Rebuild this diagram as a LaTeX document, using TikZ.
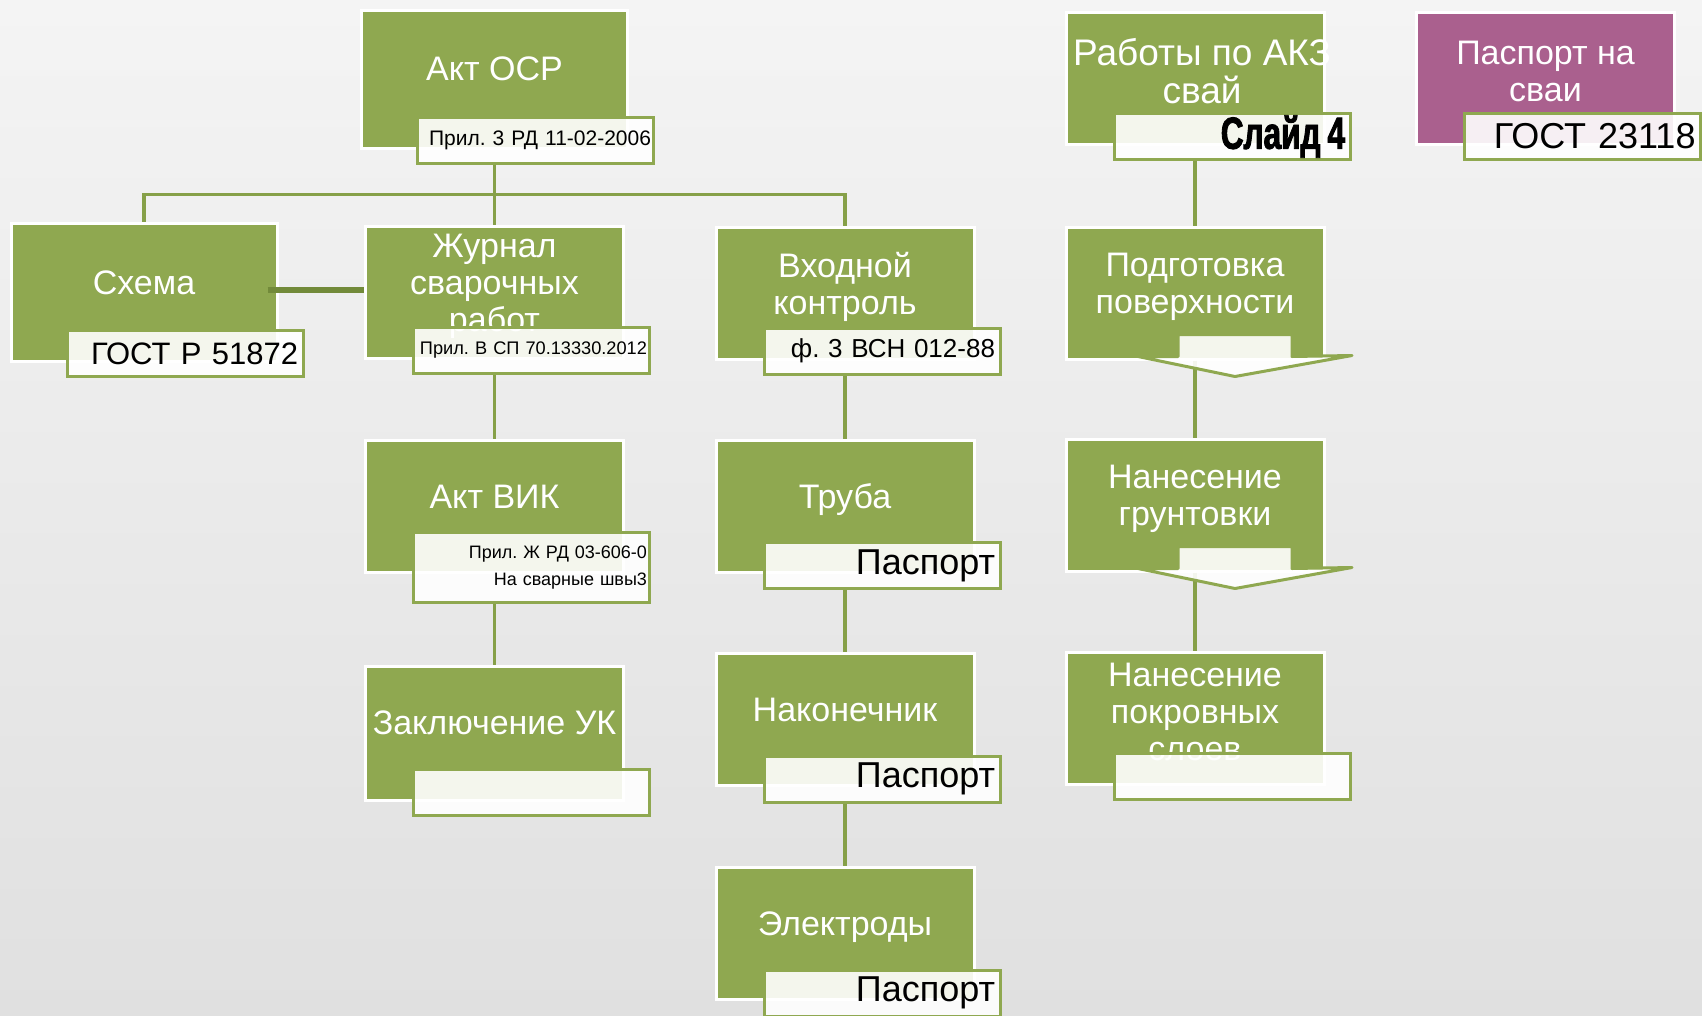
\documentclass[tikz,border=0pt]{standalone}
\usepackage{fontspec}
\setmainfont{Liberation Sans}
\newfontfamily\slidefont[FakeStretch=0.7,BoldFeatures={FakeBold=2}]{Liberation Sans}
\usepackage{tikz}
\usetikzlibrary{positioning}
\definecolor{boxgreen}{RGB}{143, 168, 80}
\definecolor{linkgreen}{RGB}{134, 160, 72}
\definecolor{crossgreen}{RGB}{114, 138, 58}
\definecolor{boxpink}{RGB}{170, 96, 142}
\definecolor{bgtop}{RGB}{244, 244, 244}
\definecolor{bgbottom}{RGB}{224, 224, 224}
\frenchspacing

\tikzset{
  greenbox/.style={rectangle, fill=boxgreen, draw=white, line width=3pt, minimum width=258pt, minimum height=132pt, inner sep=0pt},
  rootbox/.style={greenbox, minimum width=266pt, minimum height=138pt},
  boxtext/.style={text=white, font=\fontsize{34}{37}\selectfont, align=center, inner sep=0pt},
  tagbox/.style={rectangle, draw=boxgreen, line width=3pt, fill=white, fill opacity=0.9, text opacity=1, minimum width=236pt, minimum height=46pt, text width=226pt, align=right, inner xsep=5pt, inner ysep=0pt, anchor=east},
  smalltag/.style={tagbox, text width=231pt, inner xsep=2.5pt},
  link/.style={draw=linkgreen, line width=3.5pt},
  crosslink/.style={draw=crossgreen, line width=6pt},
  tagarrow/.style={draw=boxgreen, line width=3pt, line join=round, fill=white, fill opacity=0.9}
}

% arrow shaped tag under a box
\newcommand{\downtag}[1]{%
  \draw[tagarrow] ([shift={(-17,-26)}]#1.south) -- ([shift={(97,-26)}]#1.south) -- ([shift={(97,-4)}]#1.south) -- ([shift={(157,-5)}]#1.south) -- ([shift={(40,16)}]#1.south) -- ([shift={(-57,-4)}]#1.south) -- ([shift={(-17,-4)}]#1.south) -- cycle;}

\begin{document}
\begin{tikzpicture}[x=1pt, y=-1pt]
  % Background
  \useasboundingbox (0,0) rectangle (1702,1015);
  \shade[top color=bgtop, bottom color=bgbottom] (0,0) rectangle (1702,1015);

  % Root
  \node[rootbox] (osr) at (494.5,79) {};
  \node[boxtext] (osr-txt) at ([shift={(0,-10)}]osr.center) {Акт ОСР};
  \node[smalltag, font=\fontsize{21}{24}\selectfont] (osr-tag) at ([shift={(26,-9.5)}]osr.south east) {Прил. 3 РД 11-02-2006};

  % Second row
  \node[rootbox] (schema) at (144,292.5) {};
  \node[boxtext] (schema-txt) at ([shift={(0,-10)}]schema.center) {Схема};
  \node[tagbox, font=\fontsize{31}{34}\selectfont] (schema-tag) at ([shift={(26,-9.5)}]schema.south east) {ГОСТ Р 51872};

  \node[greenbox] (journal) at (494.5,292.5) {};
  \node[boxtext] (journal-txt) at ([shift={(0,-6)}]journal.center) {Журнал\\сварочных\\работ};
  \node[smalltag, font=\fontsize{18.2}{22}\selectfont] (journal-tag) at ([shift={(26,-9.5)}]journal.south east) {Прил. В СП 70.13330.2012};

  \node[greenbox] (vhod) at (845,293) {};
  \node[boxtext] (vhod-txt) at ([shift={(0,-6)}]vhod.center) {Входной\\контроль};
  \node[tagbox, font=\fontsize{26}{30}\selectfont] (vhod-tag) at ([shift={(26,-9.5)}]vhod.south east) {ф. 3 ВСН 012-88};

  % Welding column
  \node[greenbox] (vik) at (494.5,506) {};
  \node[boxtext] (vik-txt) at ([shift={(0,-9)}]vik.center) {Акт ВИК};
  \node[smalltag, minimum height=70pt, font=\fontsize{18}{27}\selectfont] (vik-tag) at ([shift={(26,-6)}]vik.south east) {Прил. Ж РД 03-606-0\\На сварные швы3};

  \node[greenbox, minimum height=134pt] (zakl) at (494.5,733) {};
  \node[boxtext] (zakl-txt) at ([shift={(0,-10)}]zakl.center) {Заключение УК};
  \node[tagbox] (zakl-tag) at ([shift={(26,-9.5)}]zakl.south east) {};

  % Materials column
  \node[greenbox] (truba) at (845,506) {};
  \node[boxtext] (truba-txt) at ([shift={(0,-6)}]truba.center) {Труба};
  \node[tagbox, font=\fontsize{36}{40}\selectfont] (truba-tag) at ([shift={(26,-8)}]truba.south east) {Паспорт};

  \node[greenbox] (nakon) at (845,719.5) {};
  \node[boxtext] (nakon-txt) at ([shift={(0,-10)}]nakon.center) {Наконечник};
  \node[tagbox, font=\fontsize{36}{40}\selectfont] (nakon-tag) at ([shift={(26,-8)}]nakon.south east) {Паспорт};

  \node[greenbox] (elektr) at (845,933.5) {};
  \node[boxtext] (elektr-txt) at ([shift={(0,-6)}]elektr.center) {Электроды};
  \node[tagbox, font=\fontsize{36}{40}\selectfont] (elektr-tag) at ([shift={(26,-8)}]elektr.south east) {Паспорт};

  % Corrosion protection column
  \node[greenbox] (akz) at (1195,78.5) {};
  \node[boxtext, font=\fontsize{37}{38}\selectfont] (akz-txt) at ([shift={(7,-7)}]akz.center) {Работы по АКЗ\\свай};
  \node[tagbox, font=\fontsize{45}{46}\slidefont\bfseries] (akz-tag) at ([shift={(26,-9.5)}]akz.south east) {Слайд\hspace{7pt}4};

  \node[greenbox] (prep) at (1195,293) {};
  \node[boxtext] (prep-txt) at ([shift={(0,-6)}]prep.center) {Подготовка\\поверхности};

  \node[greenbox] (primer) at (1195,505) {};
  \node[boxtext] (primer-txt) at ([shift={(0,-6)}]primer.center) {Нанесение\\грунтовки};

  \node[greenbox] (coat) at (1195,718.5) {};
  \node[boxtext] (coat-txt) at ([shift={(0,-7)}]coat.center) {Нанесение\\покровных\\слоев};
  \node[tagbox] (coat-tag) at ([shift={(26,-9.5)}]coat.south east) {};

  % Pile passport
  \node[greenbox, fill=boxpink] (pasp) at (1545.5,78.5) {};
  \node[boxtext] (pasp-txt) at ([shift={(0,-7)}]pasp.center) {Паспорт на\\сваи};
  \node[tagbox, font=\fontsize{36}{40}\selectfont] (pasp-tag) at ([shift={(26,-9.5)}]pasp.south east) {ГОСТ 23118};

  % Connecting lines
  \draw[link] (osr |- osr-tag.south) -- ++(0,30) -| (schema.north);
  \draw[link] (osr |- osr-tag.south) -- (journal.north);
  \draw[link] (osr |- osr-tag.south) -- ++(0,30) -| (vhod.north);
  \draw[crosslink] ([shift={(-11,-3)}]schema.east) -- ([shift={(0,-3)}]journal.west);
  \draw[link] (journal |- journal-tag.south) -- (vik.north);
  \draw[link] (vik |- vik-tag.south) -- (zakl.north);
  \draw[link] (vhod |- vhod-tag.south) -- (truba.north);
  \draw[link] (truba |- truba-tag.south) -- (nakon.north);
  \draw[link] (nakon |- nakon-tag.south) -- (elektr.north);
  \draw[link] (akz |- akz-tag.south) -- (prep.north);
  \draw[link] (prep.south) -- (primer.north);
  \draw[link] (primer.south) -- (coat.north);

  % Arrow tags
  \downtag{prep}
  \downtag{primer}
\end{tikzpicture}
\end{document}
